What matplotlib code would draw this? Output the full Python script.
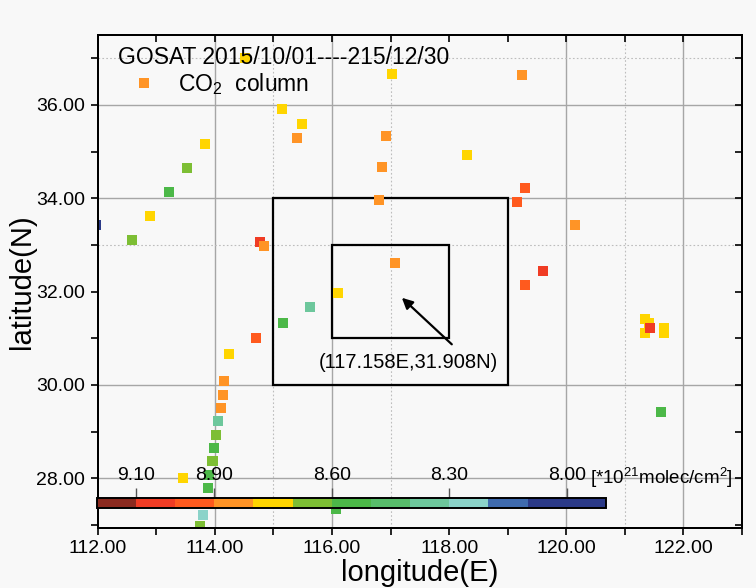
import matplotlib
matplotlib.use("Agg")
import matplotlib.pyplot as plt
from matplotlib.colors import ListedColormap, BoundaryNorm
from matplotlib.patches import Rectangle
from matplotlib.lines import Line2D
import matplotlib.ticker as mticker

plt.rcParams['font.family'] = ['Liberation Sans', 'DejaVu Sans']
plt.rcParams['mathtext.fontset'] = 'custom'
plt.rcParams['mathtext.rm'] = 'Liberation Sans'
plt.rcParams['mathtext.it'] = 'Liberation Sans:italic'

# GOSAT soundings: longitude (E), latitude (N), CO2 column (*10^21 molec/cm^2)
lon = [111.97, 112.58, 112.90, 113.21, 113.53, 113.84, 114.52, 115.15, 115.49,
       115.40, 116.93, 116.86, 116.80, 117.03, 119.24, 118.31, 119.30, 119.16,
       120.15, 114.77, 114.84, 117.07, 116.10, 115.62, 115.16, 114.70, 114.24,
       114.16, 114.14, 114.11, 114.06, 114.02, 113.99, 113.96, 113.90, 113.89,
       113.46, 113.80, 113.75, 116.07, 121.34, 121.41, 121.34, 121.66, 121.66,
       121.43, 119.60, 119.30, 121.61]
lat = [33.43, 33.11, 33.62, 34.14, 34.65, 35.17, 37.01, 35.92, 35.60,
       35.30, 35.34, 34.67, 33.97, 36.67, 36.65, 34.93, 34.22, 33.92,
       33.43, 33.06, 32.98, 32.62, 31.98, 31.66, 31.33, 31.00, 30.66,
       30.08, 29.78, 29.50, 29.22, 28.92, 28.64, 28.36, 28.06, 27.79,
       28.00, 27.21, 26.97, 27.34, 31.41, 31.33, 31.12, 31.21, 31.12,
       31.23, 32.44, 32.14, 29.42]
co2_column = [8.05, 8.65, 8.75, 8.55, 8.65, 8.75, 8.75, 8.75, 8.75,
              8.85, 8.85, 8.85, 8.85, 8.75, 8.85, 8.75, 8.95, 8.95,
              8.85, 9.05, 8.85, 8.85, 8.75, 8.35, 8.55, 8.95, 8.75,
              8.85, 8.85, 8.85, 8.35, 8.65, 8.55, 8.65, 8.55, 8.55,
              8.75, 8.25, 8.65, 8.55, 8.75, 8.75, 8.75, 8.75, 8.75,
              9.05, 9.05, 8.95, 8.55]

# Colour classes of the CO2 column scale (low -> high)
level_edges = [7.9, 8.0, 8.1, 8.2, 8.3, 8.4, 8.5, 8.6, 8.7, 8.8, 8.9, 9.0, 9.1, 9.2]
level_colors = ['#2b3a88', '#2b3a88', '#3f6bae', '#8bd3c9', '#6dc79c', '#58bd6b',
                '#4cb848', '#7dbe34', '#ffd500', '#ff9426', '#ff5a1e', '#f03c24',
                '#8b2a1f']
cbar_ticks = [9.10, 8.90, 8.60, 8.30, 8.00]

# Study area frames (lon0, lat0, width, height)
outer_box = (115.0, 30.0, 4.0, 4.0)
inner_box = (116.0, 31.0, 2.0, 2.0)
site_lon, site_lat = 117.158, 31.908

bg = '#f8f8f8'
fig = plt.figure(figsize=(7.56, 5.88), dpi=100, facecolor=bg)
W, H = 756.0, 588.0
ax = fig.add_axes([97.7 / W, 1 - 527.7 / H, (742 - 97.7) / W, (527.7 - 35) / H])
ax.set_facecolor(bg)

cmap = ListedColormap(level_colors)
norm = BoundaryNorm(level_edges, cmap.N)

# Grid lines
for gx in [114, 116, 120, 122]:
    ax.axvline(gx, color='#a6a6a6', lw=1.0, zorder=0.5)
for gy in [28, 30, 34, 36]:
    ax.axhline(gy, color='#a6a6a6', lw=1.0, zorder=0.5)
for gx in [115, 117, 121]:
    ax.axvline(gx, color='#bdbdbd', lw=0.8, ls=(0, (1.5, 2)), zorder=0.5)
for gy in [33, 37]:
    ax.axhline(gy, color='#bdbdbd', lw=0.8, ls=(0, (1.5, 2)), zorder=0.5)

ax.scatter(lon, lat, c=co2_column, cmap=cmap, norm=norm, marker='s', s=52,
           linewidths=0, zorder=3)

for (x0, y0, w, h) in (outer_box, inner_box):
    ax.add_patch(Rectangle((x0, y0), w, h, fill=False, ec='black', lw=1.6, zorder=2))

ax.annotate('', xy=(site_lon, site_lat), xytext=(118.08, 30.83),
            arrowprops=dict(arrowstyle='-|>', color='black', lw=1.6, mutation_scale=16),
            zorder=4)
ax.text(117.31, 30.48, '(%.3fE,%.3fN)' % (site_lon, site_lat), ha='center', va='center',
        fontsize=14.5, zorder=4)

ax.set_xlim(112, 123)
ax.set_ylim(26.94, 37.5)
ax.xaxis.set_major_locator(mticker.MultipleLocator(2))
ax.xaxis.set_minor_locator(mticker.MultipleLocator(1))
ax.yaxis.set_major_locator(mticker.MultipleLocator(2))
ax.yaxis.set_minor_locator(mticker.MultipleLocator(1))
ax.xaxis.set_major_formatter(mticker.FormatStrFormatter('%.2f'))
ax.yaxis.set_major_formatter(mticker.FormatStrFormatter('%.2f'))
ax.tick_params(which='both', direction='out', length=5, width=1.2, labelsize=14,
               top=False, right=False, pad=4)

# Inward ticks on the top and right edges
axt = ax.twiny()
axt.set_xlim(ax.get_xlim())
axt.xaxis.set_major_locator(mticker.MultipleLocator(1))
axt.tick_params(axis='x', direction='in', length=5, width=1.2, labeltop=False,
                labelbottom=False, bottom=False)
axr = ax.twinx()
axr.set_ylim(ax.get_ylim())
axr.yaxis.set_major_locator(mticker.MultipleLocator(1))
axr.tick_params(axis='y', direction='in', length=5, width=1.2, labelright=False,
                labelleft=False, left=False)
for a in (ax, axt, axr):
    for sp in a.spines.values():
        sp.set_linewidth(1.4)

ax.set_xlabel('longitude(E)', fontsize=21, labelpad=1)
ax.set_ylabel('latitude(N)', fontsize=21, labelpad=0)

# Header and legend entry
fig.text(118.3 / W, 1 - 57 / H, 'GOSAT 2015/10/01----215/12/30', fontsize=16.5,
         ha='left', va='center', zorder=5)
handle = Line2D([], [], marker='s', ls='none', color='#ff9426', markersize=7.2, mew=0)
fig.legend([handle], [r'CO$_2$  column'], loc='center left',
           bbox_to_anchor=(132.5 / W, 1 - 84 / H), frameon=False, fontsize=16.5,
           handlelength=1.0, handletextpad=0.99, borderpad=0, borderaxespad=0)

# Colour scale bar
cax = fig.add_axes([96.7 / W, 1 - 508.3 / H, (606 - 96.7) / W, 10 / H])
cb = fig.colorbar(plt.cm.ScalarMappable(norm=norm, cmap=cmap), cax=cax,
                  orientation='horizontal', ticks=cbar_ticks)
cax.invert_xaxis()
cax.xaxis.set_ticks_position('top')
cax.xaxis.set_label_position('top')
cax.xaxis.set_major_formatter(mticker.FormatStrFormatter('%.2f'))
cax.tick_params(axis='x', direction='out', length=7, width=1.0, color='#555555',
                labelsize=14, pad=3)
cax.minorticks_off()
cb.outline.set_linewidth(1.4)
fig.text(590 / W, 1 - 478 / H, r'[*10$^{21}$molec/cm$^{2}$]', fontsize=13.5,
         ha='left', va='center')

fig.savefig('out.png', dpi=100, facecolor=bg)
